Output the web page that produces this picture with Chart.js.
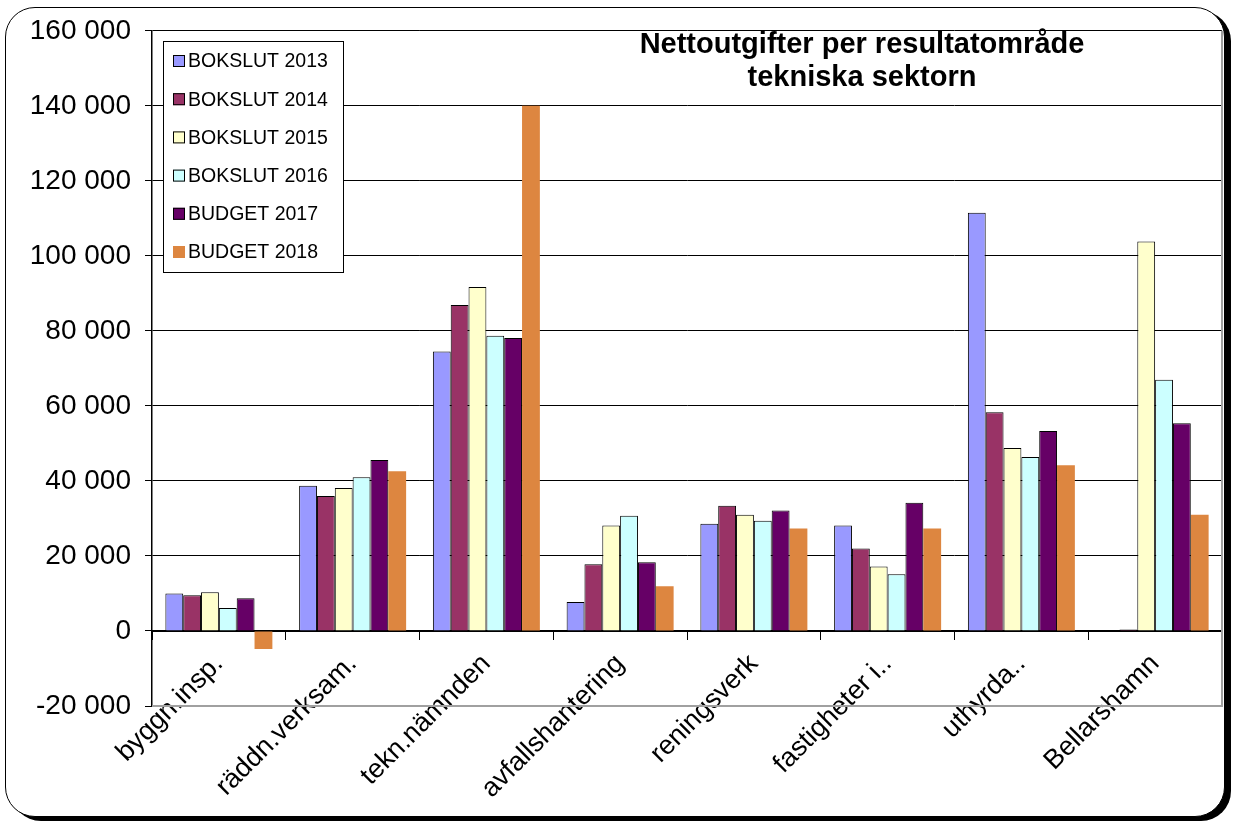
<!DOCTYPE html>
<html><head><meta charset="utf-8">
<script src="https://cdn.jsdelivr.net/npm/chart.js@4"></script>
<style>
html,body{margin:0;padding:0;background:#fff;}
#wrap{position:relative;width:1237px;height:823px;overflow:hidden;}
#frame{position:absolute;left:5px;top:7px;width:1218px;height:808px;border:1.5px solid #000;border-radius:30px;box-shadow:6px 4px 0 0 #000;background:#fff;}
canvas{position:absolute;left:0;top:0;}
</style></head>
<body><div id="wrap"><div id="frame"></div><canvas id="c" width="1237" height="823"></canvas></div>
<script>
const categories = ["byggn.insp.", "räddn.verksam.", "tekn.nämnden", "avfallshantering", "reningsverk", "fastigheter i..", "uthyrda..", "Bellarshamn"];
const seriesNames = ["BOKSLUT 2013", "BOKSLUT 2014", "BOKSLUT 2015", "BOKSLUT 2016", "BUDGET 2017", "BUDGET 2018"];
const bokslut2013 = [10000, 38700, 74500, 7700, 28600, 28100, 111500, 0];
const bokslut2014 = [9500, 36000, 86900, 17800, 33400, 22000, 58300, 400];
const bokslut2015 = [10300, 38100, 91700, 28100, 31000, 17200, 48800, 103800];
const bokslut2016 = [6100, 41000, 78700, 30700, 29400, 15100, 46400, 67000];
const budget2017 = [8700, 45600, 78100, 18300, 32100, 34200, 53300, 55400];
const budget2018 = [-4800, 42600, 140000, 11900, 27300, 27300, 44200, 31000];
const yMin = -20000, yMax = 160000, yStep = 20000;
const titleLines = ["Nettoutgifter per resultatområde", "tekniska sektorn"];

const colors = ["#9999FF", "#993366", "#FFFFCC", "#CCFFFF", "#660066", "#DD8640"];
const borders = [1, 1, 1, 1, 1, 0];
const allSeries = [bokslut2013, bokslut2014, bokslut2015, bokslut2016, budget2017, budget2018];
const FONT = "'Liberation Sans', Arial, sans-serif";

function fmt(v) {
  const s = String(Math.abs(v)).replace(/\B(?=(\d{3})+(?!\d))/g, " ");
  return (v < 0 ? "-" : "") + s;
}

const decor = {
  id: "decor",
  beforeDatasetsDraw(chart) {
    const {ctx, chartArea: a} = chart;
    ctx.save();
    ctx.strokeStyle = "#a0a0a0";
    ctx.lineWidth = 2;
    ctx.beginPath();
    ctx.moveTo(a.left, a.bottom); ctx.lineTo(a.right, a.bottom); ctx.lineTo(a.right, a.top);
    ctx.stroke();
    ctx.restore();
  },
  afterDraw(chart) {
    const {ctx, chartArea: a} = chart;
    ctx.save();
    // title
    ctx.fillStyle = "#000";
    ctx.font = "bold 29px " + FONT;
    ctx.textAlign = "center";
    ctx.textBaseline = "middle";
    ctx.fillText(titleLines[0], 862, 45);
    ctx.fillText(titleLines[1], 862, 78);
    // legend
    const lx = a.left + 11, ly = 41, lw = 180, lh = 231;
    ctx.fillStyle = "#fff";
    ctx.fillRect(lx, ly, lw, lh);
    ctx.strokeStyle = "#000";
    ctx.lineWidth = 1;
    ctx.strokeRect(lx + 0.5, ly + 0.5, lw, lh);
    ctx.font = "19.5px " + FONT;
    ctx.textAlign = "left";
    chart.data.datasets.forEach((ds, i) => {
      const cy = ly + 20 + i * 38.2;
      ctx.fillStyle = ds.backgroundColor;
      ctx.fillRect(lx + 10, cy - 6, 12, 12);
      if (ds.borderWidth) { ctx.strokeStyle = "#000"; ctx.strokeRect(lx + 10.5, cy - 5.5, 11, 11); }
      ctx.fillStyle = "#000";
      ctx.fillText(ds.label, lx + 25, cy + 1);
    });
    ctx.restore();
  }
};

new Chart(document.getElementById("c"), {
  type: "bar",
  data: {
    labels: categories,
    datasets: seriesNames.map((n, i) => ({
      label: n,
      data: allSeries[i],
      backgroundColor: colors[i],
      borderColor: "#000",
      borderWidth: borders[i],
      barPercentage: 1,
      categoryPercentage: 0.8
    }))
  },
  options: {
    responsive: false,
    animation: false,
    layout: { padding: { top: 27, right: 15, bottom: 117, left: 0 } },
    plugins: { legend: { display: false }, tooltip: { enabled: false } },
    scales: {
      x: {
        position: { y: 0 },
        grid: { drawOnChartArea: false, offset: true, tickLength: 8, color: "#000", lineWidth: 1 },
        border: { display: true, color: "#000", width: 2 },
        ticks: { color: "#000", font: { family: FONT, size: 27 }, minRotation: 45, maxRotation: 45, autoSkip: false, padding: 9 }
      },
      y: {
        min: yMin, max: yMax,
        afterFit(s) { s.width = 152; },
        grid: {
          color: c => (c.tick && c.tick.value === yMin) ? "rgba(0,0,0,0)" : "#000",
          tickColor: "#000", tickLength: 7, lineWidth: 1
        },
        border: { display: true, color: "#000", width: 1.5 },
        ticks: { stepSize: yStep, color: "#000", padding: 14, font: { family: FONT, size: 28 }, callback: v => fmt(v) }
      }
    }
  },
  plugins: [decor]
});
</script>
</body></html>
